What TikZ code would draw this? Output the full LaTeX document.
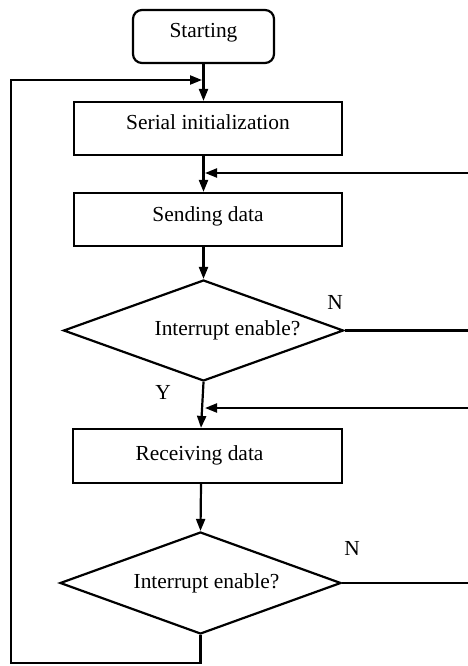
\documentclass[tikz,border=0pt]{standalone}
\usepackage{fontspec}
\setmainfont{Liberation Serif}
\usepackage{tikz}
\usetikzlibrary{arrows.meta,shapes.geometric}

\begin{document}
\begin{tikzpicture}[x=1bp,y=-1bp,>={Triangle[length=12bp,width=9bp]},line width=2.2bp,
  every node/.style={font=\fontsize{21.5}{25}\selectfont},
  termbox/.style={draw,rectangle,rounded corners=9bp,minimum width=141bp,minimum height=53bp,inner sep=0pt,text height=14bp,text depth=11bp},
  procbox/.style={draw,rectangle,minimum width=268bp,minimum height=53bp,inner sep=0pt,text height=14bp,text depth=11bp},
  decbox/.style={draw,diamond,aspect=2.76,minimum width=280bp,minimum height=101bp,inner sep=0pt}]
\useasboundingbox (0,0) rectangle (468,666);
\node[termbox] (start) at (203.5,36.5) {Starting};
\node[procbox] (init) at (208,128.5) {Serial initialization};
\node[procbox] (send) at (208,219.5) {Sending data};
\node[decbox,label={[xshift=24bp]center:Interrupt enable?}] (dec1) at (203.5,330.5) {};
\node[procbox,minimum width=269bp,minimum height=54bp,label={[xshift=-8bp,yshift=1bp]center:Receiving data}] (recv) at (207.5,456) {};
\node[decbox,minimum width=281bp,minimum height=102bp,label={[xshift=6bp]center:Interrupt enable?}] (dec2) at (200.5,583) {};
\node (n1) at (335,302) {N};
\node (y1) at (163,392) {Y};
\node (n2) at (352,548) {N};
\coordinate (j1) at (203.5,80);
\coordinate (j2) at (203.5,173);
\coordinate (j3) at (203.5,408);
\coordinate (r1) at (468,173);
\coordinate (r2) at (468,408);
\coordinate (bl) at (11,663);
\draw[->] (start) -- (start |- init.north);
\draw[->] (init.south -| start) -- (send.north -| start);
\draw[->] (send.south -| start) -- (dec1.north);
\draw[->] (dec1.south) -- ([xshift=-6.5bp]recv.north);
\draw[->] ([xshift=-6.5bp]recv.south) -- (dec2.north);
\draw (dec1.east) -- (dec1.east -| r1);
\draw (dec2.east) -- (dec2.east -| r1);
\draw[->] (r1) -- ([xshift=1.5bp]j2);
\draw[->] (r2) -- ([xshift=1.5bp]j3);
\draw[->] (dec2.south) -- (dec2.south |- bl) -- (bl) -- (bl |- j1) -- ([xshift=-1.5bp]j1);
\end{tikzpicture}
\end{document}
